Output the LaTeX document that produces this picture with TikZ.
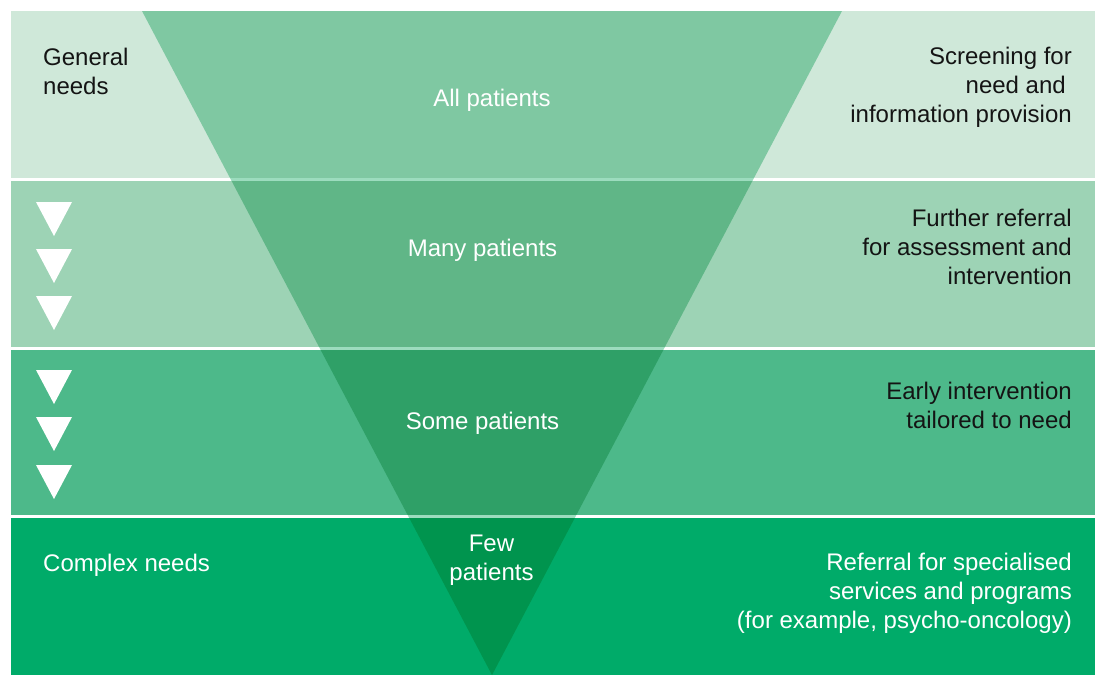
\documentclass[tikz,border=0pt]{standalone}
\usepackage{fontspec}
\setmainfont{Liberation Sans}
\definecolor{bandA}{RGB}{207,232,217}
\definecolor{bandB}{RGB}{157,211,181}
\definecolor{bandC}{RGB}{77,185,138}
\definecolor{bandD}{RGB}{0,171,105}
\definecolor{triA}{RGB}{127,200,162}
\definecolor{triB}{RGB}{96,182,135}
\definecolor{triC}{RGB}{47,160,103}
\definecolor{triD}{RGB}{0,148,78}
\definecolor{triGap}{RGB}{156,220,190}
\definecolor{ink}{RGB}{20,20,20}
\tikzset{
  lbl/.style={font=\fontsize{24}{29}\selectfont, inner sep=0pt, text=ink},
  wlbl/.style={lbl, text=white},
  arrowtri/.style={fill=white, draw=none},
}
\begin{document}
\begin{tikzpicture}[x=1pt,y=-1pt]
\useasboundingbox (0,0) rectangle (1095,675);
\fill[white] (0,0) rectangle (1095,675);
% funnel shape behind gaps
\fill[triGap] (142,11) -- (842,11) -- (492,675) -- cycle;
% bands
\fill[bandA] (11,11) rectangle (1095,178);
\fill[bandB] (11,181) rectangle (1095,347);
\fill[bandC] (11,350) rectangle (1095,515);
\fill[bandD] (11,518) rectangle (1095,675);
% funnel over bands
\begin{scope}
  \clip (142,11) -- (842,11) -- (492,675) -- cycle;
  \fill[triA] (11,11) rectangle (1095,178);
  \fill[triB] (11,181) rectangle (1095,347);
  \fill[triC] (11,350) rectangle (1095,515);
  \fill[triD] (11,518) rectangle (1095,675);
\end{scope}
% white arrow triangles
\foreach \t in {202,249,296,370,417,465}
  \fill[arrowtri] (36,\t) -- (72,\t) -- (54,\t+34) -- cycle;
% labels (base anchor of a multi-line node = baseline of its last line)
\node[lbl, anchor=base west, align=left] (gen) at (43,94) {General\\needs};
\node[wlbl, anchor=base] (all) at (492,106) {All patients};
\node[lbl, anchor=base east, align=right] (scr) at (1072,122.7) {Screening for\\need and\rule{6pt}{0pt}\\information provision};
\node[wlbl, anchor=base] (many) at (482.5,256.5) {Many patients};
\node[lbl, anchor=base east, align=right] (fur) at (1072,284) {Further referral\\for assessment and\\intervention};
\node[wlbl, anchor=base] (some) at (482.5,429.5) {Some patients};
\node[lbl, anchor=base east, align=right] (early) at (1072,428.5) {Early intervention\\tailored to need};
\node[wlbl, anchor=base west] (complex) at (43,571) {Complex needs};
\node[wlbl, anchor=base, align=center] (few) at (491.5,580) {Few\\patients};
\node[wlbl, anchor=base east, align=right] (ref) at (1072,628) {Referral for specialised\\services and programs\\(for example, psycho-oncology)};
\end{tikzpicture}
\end{document}
